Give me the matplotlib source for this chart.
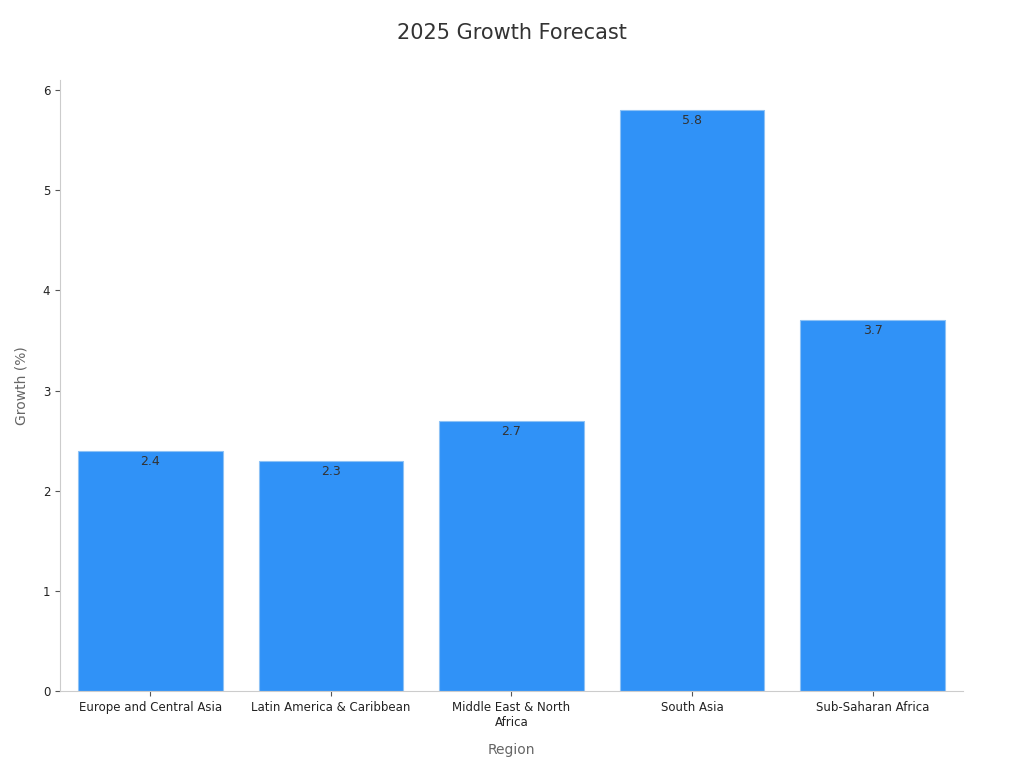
import matplotlib
matplotlib.use("Agg")
import matplotlib.pyplot as plt

regions = ['Europe and Central Asia', 'Latin America & Caribbean',
           'Middle East & North\nAfrica', 'South Asia', 'Sub-Saharan Africa']
growth = [2.4, 2.3, 2.7, 5.8, 3.7]

fig = plt.figure(figsize=(10.24, 7.68), dpi=100)
ax = fig.add_axes([0.0586, 0.1003, 0.8818, 0.7955])

bars = ax.bar(range(len(regions)), growth, width=0.8, color='#3092F7',
              edgecolor='#8ec2f5', linewidth=0.8)

for bar, val in zip(bars, growth):
    ax.text(bar.get_x() + bar.get_width() / 2, val - 0.04, f'{val}',
            ha='center', va='top', fontsize=9, color='#333333')

ax.set_xlim(-0.5, 4.5)
ax.set_ylim(0, 6.1)
ax.set_xticks(range(len(regions)))
ax.set_xticklabels(regions, fontsize=8.5, color='#222222')
ax.set_yticks(range(7))
ax.tick_params(axis='y', labelsize=8.5, colors='#222222')
ax.tick_params(axis='both', color='#555555')

ax.spines['top'].set_visible(False)
ax.spines['right'].set_visible(False)
ax.spines['left'].set_color('#cccccc')
ax.spines['bottom'].set_color('#cccccc')

ax.set_xlabel('Region', fontsize=10, color='#666666', labelpad=10)
ax.set_ylabel('Growth (%)', fontsize=10, color='#666666', labelpad=10)
fig.suptitle('2025 Growth Forecast', fontsize=15, color='#333333', y=0.97)

fig.savefig('out.png', dpi=100)
